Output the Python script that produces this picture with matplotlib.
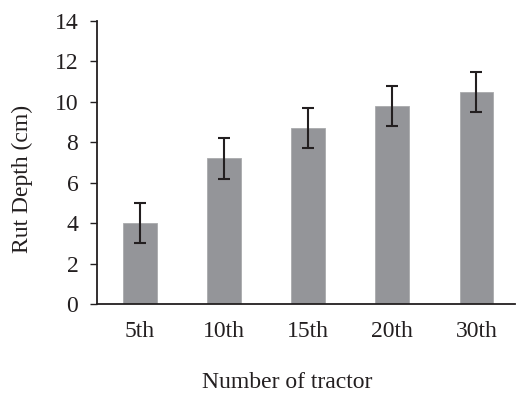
import matplotlib
matplotlib.use("Agg")
import matplotlib.pyplot as plt

categories = ["5th", "10th", "15th", "20th", "30th"]
rut_depth = [4.0, 7.2, 8.7, 9.8, 10.5]
errors = [1.0, 1.0, 1.0, 1.0, 1.0]
yticks = [0, 2, 4, 6, 8, 10, 12, 14]

plt.rcParams['font.family'] = ['Liberation Serif', 'DejaVu Serif']
FS = 17

fig = plt.figure(figsize=(5.16, 3.95), dpi=100)
ax = fig.add_axes([97/516, 1-304/395, (515-97)/516, (304-21)/395])

x = list(range(len(categories)))
ax.bar(x, rut_depth, width=0.4, color='#949599', edgecolor='#a9aaad', linewidth=0.6,
       yerr=errors, error_kw=dict(ecolor='#231f20', elinewidth=1.5, capsize=4.3, capthick=1.5))

ax.set_xlim(-0.511, 4.46)
ax.set_ylim(0, 14)
ax.set_yticks(yticks)
ax.set_xticks(x)
ax.set_xticklabels(categories)

for s in ['top', 'right']:
    ax.spines[s].set_visible(False)
for s in ['left', 'bottom']:
    ax.spines[s].set_color('#231f20')
    ax.spines[s].set_linewidth(1.3)

ax.tick_params(axis='y', length=5, width=1.0, color='#231f20', pad=8.5, labelsize=FS, labelcolor='#231f20')
ax.tick_params(axis='x', length=0, pad=12, labelsize=FS, labelcolor='#231f20')

ax.set_xlabel("Number of tractor", fontsize=FS, color='#231f20', va='center')
ax.xaxis.set_label_coords(0.456, (304-382)/283)
ax.set_ylabel("Rut Depth (cm)", fontsize=FS, color='#231f20', va='center')
ax.yaxis.set_label_coords((22-97)/418, (304-179)/283)

fig.savefig("out.png", dpi=100)
